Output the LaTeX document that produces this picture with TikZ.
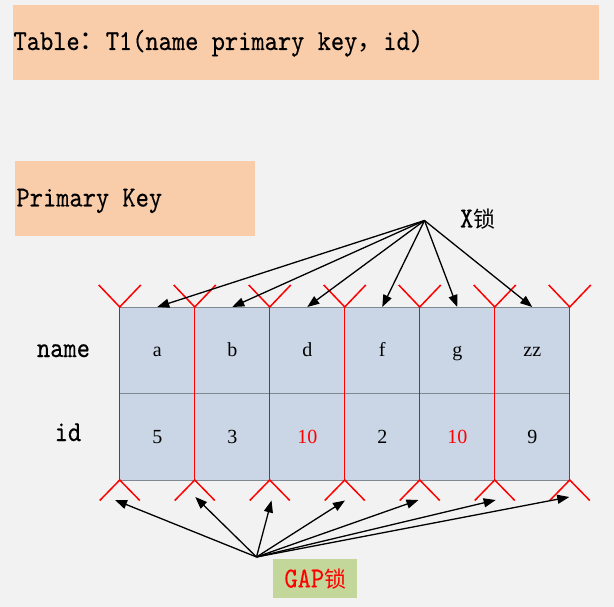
\documentclass[tikz,border=0pt]{standalone}
\usepackage{fontspec}
\newfontfamily\mono{lmmono10-regular.otf}[FakeStretch=0.87,FakeBold=0.3]
\newfontfamily\cellfont{Liberation Serif}
\newfontfamily\cjk{Noto Sans CJK SC}
\usetikzlibrary{arrows.meta}
\definecolor{bg}{HTML}{F2F2F2}
\definecolor{peach}{HTML}{FACDAA}
\definecolor{cellfill}{HTML}{CAD6E5}
\definecolor{cellline}{HTML}{808892}
\definecolor{gapgreen}{HTML}{C4D79B}
\definecolor{edgered}{HTML}{8C3A3A}
\tikzset{
  peachbox/.style={fill=peach, draw=none, inner sep=0pt, outer sep=0pt, anchor=north west},
  bigtext/.style={inner sep=0pt, outer sep=0pt, font=\mono\fontsize{29}{32}\selectfont},
  cell/.style={draw=cellline, fill=cellfill, line width=0.8pt, minimum width=75pt,
    minimum height=86.5pt, inner sep=0pt, outer sep=0pt, text height=13pt, text depth=0pt,
    font=\cellfont\fontsize{20}{22}\selectfont},
  redline/.style={draw=red, line width=0.8pt},
  vmark/.style={draw=red, line width=1.5pt},
  arr/.style={line width=1.3pt, -{Triangle[length=12pt,width=9pt]}},
}
\begin{document}
\begin{tikzpicture}[x=1pt,y=-1pt]
\fill[bg] (0,0) rectangle (614,607);
\useasboundingbox (0,0) rectangle (614,607);

% title boxes
\node[peachbox, minimum width=586.5pt, minimum height=75pt] (titlebox) at (12.5,5) {};
\node[bigtext, anchor=base west] (title) at (13.5,50)
  {Table{\cjk\fontsize{26}{30}\selectfont ：}T1(name primary key{\cjk\fontsize{26}{30}\selectfont ，}id)};
\node[peachbox, minimum width=240pt, minimum height=75pt] (pkbox) at (15,161) {};
\node[bigtext, anchor=base west] (pk) at (16.5,206.5) {Primary Key};

% row labels
\node[bigtext, anchor=base] (namelbl) at (63.5,357) {name};
\node[bigtext, anchor=base] (idlbl) at (68,441) {id};

% cells
\foreach \i/\t/\d/\dc in {1/a/5/black, 2/b/3/black, 3/d/10/red, 4/f/2/black, 5/g/10/red, 6/zz/9/black}{
  \node[cell] (n\i) at ({157.25+75*(\i-1)},350.25) {\t};
  \node[cell, text=\dc] (d\i) at ({157.25+75*(\i-1)},436.75) {\d};
}

% red vertical lines and V marks
\foreach \i in {1,...,6}{
  \draw[redline] (n\i.north west) -- (d\i.south west);
  \draw[vmark] (n\i.north west) ++(-21,-22) -- (n\i.north west) -- ++(21,-22);
  \draw[vmark] (d\i.south west) ++(-20,20.5) -- (d\i.south west) -- ++(20,20.5);
}
\draw[draw=edgered, line width=0.8pt] (n6.north east) -- (d6.south east);
\draw[vmark] (n6.north east) ++(-21,-22) -- (n6.north east) -- ++(21,-22);
\draw[vmark] (d6.south east) ++(-20,20.5) -- (d6.south east) -- ++(20,20.5);

% X lock
\coordinate (xsrc) at (424.5,220.5);
\node[bigtext, anchor=base west] (xlbl) at (460,227.5) {X{\cjk\fontsize{22}{26}\selectfont 锁}};
\foreach \i in {1,...,6}{
  \draw[arr] (xsrc) -- (n\i.north);
}

% GAP lock
\node[fill=gapgreen, minimum width=84pt, minimum height=39.5pt, inner sep=0pt, text=red,
  text height=17.7pt, text depth=0pt, font=\mono\fontsize{29}{32}\selectfont] (gap) at (315.3,578.6)
  {GAP{\cjk\fontsize{22}{26}\selectfont 锁}};
\coordinate (gsrc) at (256.5,557);
\coordinate (gt1) at (115,500);
\coordinate (gt2) at (195.3,497);
\coordinate (gt3) at (271.5,500.5);
\coordinate (gt4) at (345,500.5);
\coordinate (gt5) at (418.5,500);
\coordinate (gt6) at (495.7,500);
\coordinate (gt7) at (569.3,497);
\foreach \i in {1,...,7}{
  \draw[arr] (gsrc) -- (gt\i);
}
\end{tikzpicture}
\end{document}
